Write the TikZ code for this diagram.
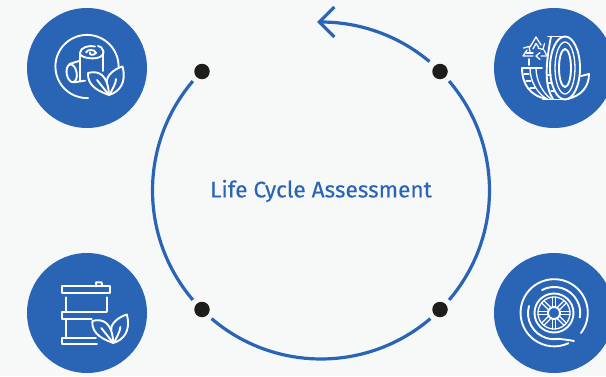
\documentclass[tikz,border=0pt]{standalone}
\usetikzlibrary{calc}
\usepackage{fontspec}
\setmainfont[FakeBold=0.25]{Fira Sans}
\definecolor{lcablue}{HTML}{2A64B4}
\definecolor{lcabg}{HTML}{F7F9F9}
\definecolor{lcadot}{HTML}{1D1D1B}
\tikzset{
  disc/.style={circle,fill=lcablue,minimum size=120pt,inner sep=0pt,outer sep=0pt},
  blackdot/.style={circle,fill=lcadot,minimum size=15.5pt,inner sep=0pt,outer sep=0pt},
  ring/.style={draw=lcablue,line width=3.2pt},
  ico/.style={draw=white,line width=1.9pt,line cap=round,line join=round},
  icothin/.style={draw=white,line width=1.3pt,line cap=round,line join=round},
  title/.style={text=lcablue,font=\fontsize{22.6pt}{25pt}\selectfont,inner sep=0pt}
}
\newcommand{\lcaleaves}{%
  \draw[ico] (-1,0) .. controls (-9,3) and (-23,8) .. (-22,22) .. controls (-11,25) and (-2,20) .. (-1,0);
  \draw[ico] (-1,0) .. controls (-5,5) and (-9,10) .. (-13,15);
  \draw[ico] (-1,0) .. controls (9,3) and (17,12) .. (12.5,28.5) .. controls (4,26) and (-4,19) .. (-3,13);
  \draw[ico] (0,1) .. controls (3,7) and (6,12) .. (6,16);
}
\begin{document}
\begin{tikzpicture}[x=1pt,y=1pt]
\useasboundingbox[fill=lcabg] (0,0) rectangle (606,376);
\coordinate (c) at (321,185.5);
\node[disc] (tl) at (87,308) {};
\node[disc] (tr) at (554,308) {};
\node[disc] (bl) at (87,63) {};
\node[disc] (br) at (554,63) {};
\node[blackdot] (d1) at (440,304.5) {};
\node[blackdot] (d2) at (202,304.5) {};
\node[blackdot] (d3) at (202,66.5) {};
\node[blackdot] (d4) at (440,66.5) {};
\node[title] (t) at (321,185) {Life Cycle Assessment};
% ring
\draw[ring,line cap=butt] ($(c)+(49.9:168.5)$) arc[start angle=49.9,end angle=90.7,radius=168.5];
\draw[ring,line cap=butt,line join=miter] ($(c)+(90.7:168.5)+(15.5,15)$) -- ($(c)+(90.7:168.5)+(0.5,0)$) -- ($(c)+(90.7:168.5)+(15.5,-15)$);
\draw[ring] ($(c)+(139.5:168.5)$) arc[start angle=139.5,end angle=220.5,radius=168.5];
\draw[ring] ($(c)+(229.5:168.5)$) arc[start angle=229.5,end angle=310.5,radius=168.5];
\draw[ring] ($(c)+(319.5:168.5)$) arc[start angle=319.5,end angle=400.5,radius=168.5];
% icon: logs
\begin{scope}[shift={(tl.center)}]
  \draw[ico] (31.6,1.5) arc[start angle=0,end angle=272,radius=31.6];
  \draw[ico] (8,21.5) .. controls (3,23) and (-7,21) .. (-7,15) .. controls (-7,10) and (5,9) .. (10,10) .. controls (15,11) and (17,14) .. (16.3,17) .. controls (15.8,20) and (13,22) .. (11,22);
  \draw[ico] (-1,15.5) .. controls (0,19) and (8,19) .. (9,15) .. controls (6,12) and (2,13) .. (3,15.5);
  \draw[ico] (-7,15) -- (-7,-13);
  \draw[ico] (16.3,15) -- (16.3,-3);
  \draw[ico,rotate around={10:(-15.3,-5.3)}] (-15.3,-5.3) ellipse[x radius=5,y radius=9];
  \draw[ico] (-17.7,4) -- (-7,7.3);
  \draw[ico] (-13,-14.3) -- (-2,-12.7);
  \begin{scope}[shift={(23,-27)}]\lcaleaves\end{scope}
\end{scope}
% icon: tyre
\begin{scope}[shift={(tr.center)}]
  \draw[ico] (11,0) ellipse[x radius=15,y radius=31.5];
  \draw[icothin] (11,0) ellipse[x radius=10,y radius=26];
  \draw[ico] (11,0) ellipse[x radius=6,y radius=19];
  \draw[ico] (-6,31.5) -- (11,31.5);
  \draw[ico] (-11,-31.5) -- (11,-31.5);
  \draw[ico] (-3,31.5) .. controls (-6,15) and (-12,-15) .. (-1,-31);
  \draw[ico] (-32,0) -- (-12,0);
  \draw[ico] (-32,0) .. controls (-32,-16) and (-24,-28) .. (-7,-31);
  \draw[icothin] (-24,0) .. controls (-24,-14) and (-16,-26) .. (-7,-31);
  \draw[icothin] (-18,0) .. controls (-18,-12) and (-12,-24) .. (-3,-31);
  \draw[ico] (-25,9) -- (-25,3);
  \draw[icothin] (-30,-6) -- (-25,-6) (-28,-13) -- (-23,-13) (-24,-20) -- (-19,-20);
  \draw[icothin] (-7,-7) -- (-3,-7) (-6,-15) -- (-2,-15) (-3,-23) -- (1,-23);
  \draw[ico] (27,-8) -- (35,-6) .. controls (35,-18) and (28,-28) .. (13,-31);
  % recycling triangle
  \draw[icothin] (-24,21) -- (-18,31) -- (-13,23) (-9.5,24.5) -- (-11,18.5) -- (-16,20);
  \draw[icothin] (-21,19) -- (-18,24.5) -- (-15.5,21);
  \draw[icothin] (-10,18) -- (-7,12) -- (-13,12) (-14,15.5) -- (-18,12) -- (-14,8.5);
  \draw[icothin] (-21,12) -- (-31,12) -- (-27,18) (-30.5,20) -- (-25,21.5) -- (-24,16);
  \draw[icothin] (-27.5,15) -- (-21,15);
\end{scope}
% icon: barrel
\begin{scope}[shift={(bl.center)}]
  \draw[ico] (-25,20) rectangle (23,26.7);
  \draw[ico] (9,26.7) -- (9,30.7) -- (14.5,30.7) -- (15.5,26.7);
  \draw[ico] (-21,15.7) -- (-21,0.7);
  \draw[ico] (19.7,15.7) -- (19.7,1.7);
  \draw[ico] (19.7,0.7) -- (-25,0.7) -- (-25,-5.7) -- (4.7,-5.7);
  \draw[ico] (-21,-6.7) -- (-21,-23.3);
  \draw[ico] (9,-25) -- (-25,-25) -- (-25,-31) -- (10,-31);
  \begin{scope}[shift={(27.3,-30)}]\lcaleaves\end{scope}
\end{scope}
% icon: wheel
\begin{scope}[shift={(br.center)}]
  \draw[ico] (27,-20) arc[start angle=-37,end angle=295,radius=33.6];
  \draw[ico] (-12,23) arc[start angle=118,end angle=-10,radius=26];
  \draw[ico] (-25,7) arc[start angle=164,end angle=280,radius=26] .. controls (10,-26.5) and (15,-27) .. (20,-28);
  \draw[ico] (0,0) circle[radius=6];
  \draw[ico] (0,0) circle[radius=19.5];
  \draw[icothin] (0,0) circle[radius=16];
  \foreach \a in {0,45,...,315}{\draw[icothin,rotate=\a] (6,-1.6) -- (16,-1.6) (6,1.6) -- (16,1.6);}
\end{scope}
\end{tikzpicture}
\end{document}
